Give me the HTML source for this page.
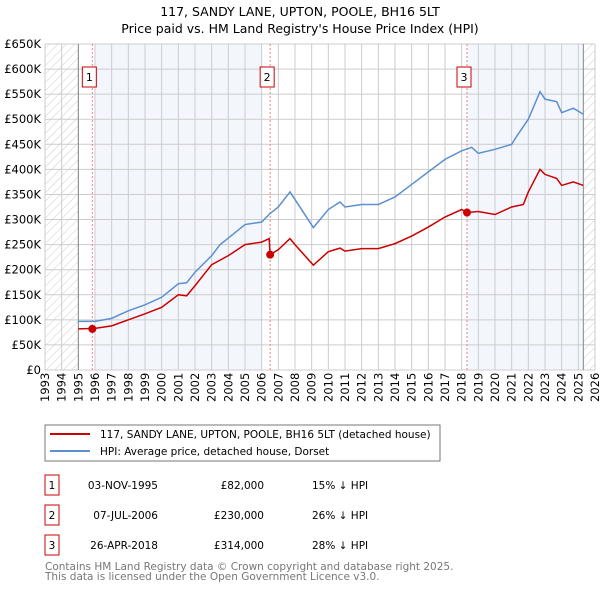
<!DOCTYPE html>
<html><head><meta charset="utf-8"><style>
body{margin:0;background:#fff;font-family:"DejaVu Sans","Liberation Sans",sans-serif;}
svg text{font-family:"DejaVu Sans","Liberation Sans",sans-serif;}
</style></head><body>
<svg id="c" width="600" height="590" xmlns="http://www.w3.org/2000/svg">
<defs><pattern id="h" width="6" height="6" patternUnits="userSpaceOnUse" patternTransform="rotate(45)"><line x1="0" y1="0" x2="0" y2="6" stroke="#ccc" stroke-width="1"/></pattern></defs>
<text x="300" y="16" font-size="12.5" text-anchor="middle">117, SANDY LANE, UPTON, POOLE, BH16 5LT</text>
<text x="300" y="33" font-size="12.5" text-anchor="middle">Price paid vs. HM Land Registry's House Price Index (HPI)</text>
<g id="plot"></g>
<rect x="45" y="425" width="395" height="36" fill="#fff" stroke="#777"/>
<line x1="50" y1="434" x2="90" y2="434" stroke="#cc0000" stroke-width="2"/>
<text x="100" y="438" font-size="10.5">117, SANDY LANE, UPTON, POOLE, BH16 5LT (detached house)</text>
<line x1="50" y1="451" x2="90" y2="451" stroke="#5b8fd0" stroke-width="2"/>
<text x="100" y="455" font-size="10.5">HPI: Average price, detached house, Dorset</text>
<g id="tbl" font-size="10.5"></g>
<text x="45" y="570" font-size="10.5" fill="#777">Contains HM Land Registry data © Crown copyright and database right 2025.</text>
<text x="45" y="580" font-size="10.5" fill="#777">This data is licensed under the Open Government Licence v3.0.</text>
</svg>
<script>
const hpiYears=[1995,1996,1997,1998,1999,2000,2001,2001.5,2002,2003,2003.5,2004,2005,2006,2006.5,2007,2007.7,2008,2009.1,2010,2010.7,2011,2012,2013,2014,2015,2016,2017,2018,2018.6,2019,2020,2021,2021.3,2022,2022.7,2023,2023.7,2024,2024.7,2025.3];
const hpiValues=[97,97,103,118,130,145,172,174,195,228,250,263,290,295,312,325,355,340,284,320,335,325,330,330,345,370,395,420,437,444,432,440,450,466,500,555,540,535,513,522,510];
const ppYears=[1995,1996,1997,1998,1999,2000,2001,2001.5,2002,2003,2004,2005,2006,2006.45,2006.51,2007,2007.7,2008,2009.1,2010,2010.7,2011,2012,2013,2014,2015,2016,2017,2018,2018.32,2019,2020,2021,2021.7,2022,2022.7,2023,2023.7,2024,2024.7,2025.3];
const ppValues=[82,83,88,100,112,125,150,148,168,210,228,250,255,262,230,240,262,250,209,236,243,237,242,242,252,267,285,305,320,314,316,310,325,330,355,400,390,382,368,375,368];
const saleYears=[1995.84,2006.51,2018.32];
const saleValues=[82,230,314];
const saleDates=["03-NOV-1995","07-JUL-2006","26-APR-2018"];
const salePrices=["£82,000","£230,000","£314,000"];
const saleDiffs=["15% ↓ HPI","26% ↓ HPI","28% ↓ HPI"];
const yTicks=[0,50,100,150,200,250,300,350,400,450,500,550,600,650];
const xTicks=[];for(let y=1993;y<=2026;y++)xTicks.push(y);

const X0=45,X1=595,Y0=370,Y1=44;
const xs=v=>X0+(v-1993)/33*(X1-X0);
const ys=v=>Y0-v/650*(Y0-Y1);
const NS="http://www.w3.org/2000/svg";
const g=document.getElementById('plot');
function mk(t,a,p){const e=document.createElementNS(NS,t);for(const k in a)e.setAttribute(k,a[k]);(p||g).appendChild(e);return e;}
let e;
e=mk('rect',{x:X0,y:Y1,width:xs(1995)-X0,height:Y0-Y1,fill:'url(#h)'});


e=mk('rect',{x:xs(2025.3),y:Y1,width:X1-xs(2025.3),height:Y0-Y1,fill:'url(#h)'});


e=mk('rect',{x:xs(1996),y:Y1,width:xs(2006)-xs(1996),height:Y0-Y1,fill:'#eef3fc',opacity:0.7});


e=mk('rect',{x:xs(2018.3),y:Y1,width:xs(2025.3)-xs(2018.3),height:Y0-Y1,fill:'#eef3fc',opacity:0.7});


xTicks.forEach(t=>{
 e=mk('line',{x1:xs(t),x2:xs(t),y1:Y1,y2:Y0,stroke:'#ccc'});
 
 
 e=mk('text',{x:0,y:0,'font-size':11.5,transform:`translate(${xs(t)+4},${Y0+32}) rotate(-90)`});
 e.textContent=t;
 
 
});
yTicks.forEach(t=>{
 e=mk('line',{x1:X0,x2:X1,y1:ys(t),y2:ys(t),stroke:'#ccc'});
 
 
 e=mk('text',{x:41,y:ys(t)+4,'font-size':11.5,'text-anchor':'end'});
 e.textContent=t===0?'£0':'£'+t+'K';
 
 
});
e=mk('line',{x1:xs(1995),x2:xs(1995),y1:Y1,y2:Y0,stroke:'#888'});


e=mk('line',{x1:xs(2025.3),x2:xs(2025.3),y1:Y1,y2:Y0,stroke:'#888'});


saleYears.forEach((s,i)=>{
 e=mk('line',{x1:xs(s),x2:xs(s),y1:Y1,y2:Y0,stroke:'#f08080','stroke-dasharray':'2,2'});
 
 
});
e=mk('polyline',{points:hpiYears.map((y,i)=>xs(y)+','+ys(hpiValues[i])).join(' '),fill:'none',stroke:'#5b8fd0','stroke-width':1.5});


e=mk('polyline',{points:ppYears.map((y,i)=>xs(y)+','+ys(ppValues[i])).join(' '),fill:'none',stroke:'#cc0000','stroke-width':1.5});


saleYears.forEach((s,i)=>{
 e=mk('circle',{cx:xs(s),cy:ys(saleValues[i]),r:4,fill:'#cc0000'});
 
 
 e=mk('rect',{x:xs(s)-10,y:67,width:14,height:20,fill:'#fff',stroke:'#cc0000'});
 
 
 e=mk('text',{x:xs(s)-3,y:81,'font-size':11,'text-anchor':'middle'});
 e.textContent=i+1;
 
 
});
const tb=document.getElementById('tbl');
saleDates.forEach((d,i)=>{
 const cy=483+i*30;
 e=mk('rect',{x:45,y:cy-8,width:14,height:20,fill:'#fff',stroke:'#cc0000'},tb);
 
 
 e=mk('text',{x:52,y:cy+6,'text-anchor':'middle'},tb);e.textContent=i+1;
 
 
 e=mk('text',{x:158,y:cy+6,'text-anchor':'end'},tb);e.textContent=d;
 
 
 e=mk('text',{x:264,y:cy+6,'text-anchor':'end'},tb);e.textContent=salePrices[i];
 
 
 e=mk('text',{x:312,y:cy+6},tb);e.textContent=saleDiffs[i];
 
 
});
</script>
</body></html>
